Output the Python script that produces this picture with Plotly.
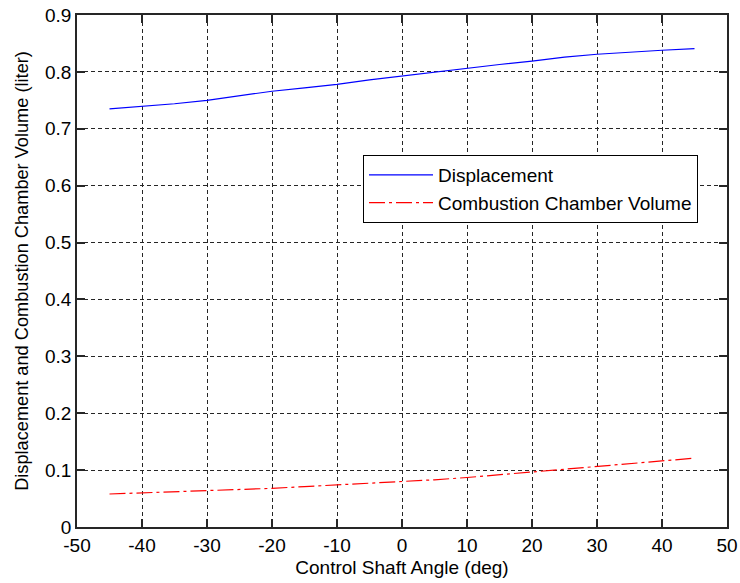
import plotly.graph_objects as go

angle = [-45, -40, -35, -30, -25, -20, -15, -10, -5, 0, 5, 10, 15, 20, 25, 30, 35, 40, 45]
displacement = [0.735, 0.739, 0.744, 0.750, 0.758, 0.766, 0.772, 0.778, 0.786, 0.793,
                0.800, 0.807, 0.813, 0.819, 0.826, 0.831, 0.835, 0.838, 0.841]
combustion = [0.058, 0.060, 0.061, 0.063, 0.065, 0.068, 0.071, 0.074, 0.076, 0.079,
              0.083, 0.087, 0.092, 0.097, 0.101, 0.106, 0.111, 0.117, 0.121]
x_ticks = [-50, -40, -30, -20, -10, 0, 10, 20, 30, 40, 50]
y_ticks = [0, 0.1, 0.2, 0.3, 0.4, 0.5, 0.6, 0.7, 0.8, 0.9]

fig = go.Figure()
fig.add_trace(go.Scatter(x=angle, y=displacement, mode="lines", name="Displacement",
                         line=dict(color="#0000ff", width=1.2)))
fig.add_trace(go.Scatter(x=angle, y=combustion, mode="lines", name="Combustion Chamber Volume",
                         line=dict(color="#ff0000", width=1.2, dash="16px,4px,3px,4px")))

font_fam = "Liberation Sans, Arial, sans-serif"
axis_common = dict(showline=True, linecolor="#262626", linewidth=1.5, mirror="ticks",
                   ticks="inside", ticklen=8, tickcolor="#262626", tickwidth=1.5,
                   showgrid=True, gridcolor="#262626", gridwidth=1, griddash="4px,3px",
                   zeroline=False, automargin=False, tickfont=dict(size=19, color="#000"))
fig.update_xaxes(range=[-50, 50], tickvals=x_ticks, ticktext=[str(v) for v in x_ticks],
                 title=dict(text="Control Shaft Angle (deg)", font=dict(size=19, color="#000"), standoff=6),
                 **axis_common)
fig.update_yaxes(range=[0, 0.9], tickvals=y_ticks, ticktext=[("%g" % v) for v in y_ticks],
                 title=dict(text="Displacement and Combustion Chamber Volume (liter)",
                            font=dict(size=18.2, color="#000"), standoff=12),
                 **axis_common)

fig.update_layout(
    width=740, height=583,
    margin=dict(l=77, r=13, t=15, b=56),
    paper_bgcolor="white", plot_bgcolor="white",
    font=dict(family=font_fam, size=19, color="#000"),
    showlegend=True,
    legend=dict(x=0.44, y=0.7266, xanchor="left", yanchor="top",
                bgcolor="white", bordercolor="#000", borderwidth=1,
                itemwidth=64, font=dict(size=19, color="#000"), tracegroupgap=0),
)
fig.write_html("out.html", config={"displayModeBar": False},
               post_script="document.body.style.margin='0';")
